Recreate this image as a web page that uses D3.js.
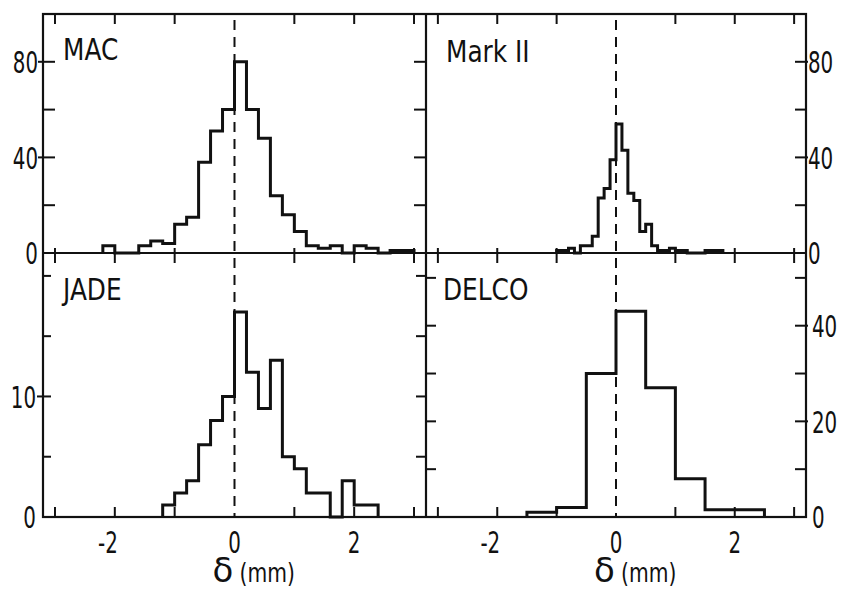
<!DOCTYPE html>
<html>
<head>
<meta charset="utf-8">
<title>Vertex residuals</title>
<script src="https://d3js.org/d3.v7.min.js"></script>
<style>
  body { margin: 0; background: #fff; }
  svg { display: block; }
  text { font-family: "DejaVu Sans", sans-serif; fill: #111; }
</style>
</head>
<body>
<svg width="843" height="591"></svg>
<script>
// bin edges (mm) and counts
const macEdges = [-2.2, -2.0, -1.8, -1.6, -1.4, -1.2, -1.0, -0.8, -0.6, -0.4, -0.2, 0, 0.2, 0.4, 0.6, 0.8, 1.0, 1.2, 1.4, 1.6, 1.8, 2.0, 2.2, 2.4, 2.6, 2.8, 3.0];
const macCounts = [3, 0, 0, 3, 5, 4, 12, 15, 38, 51, 60, 80, 60, 48, 24, 16, 9, 3, 2, 3, 0, 3, 2, 0, 1, 1];

const mark2Edges = [-1.0, -0.9, -0.8, -0.7, -0.6, -0.5, -0.4, -0.3, -0.2, -0.1, 0, 0.1, 0.2, 0.3, 0.4, 0.5, 0.6, 0.7, 0.8, 0.9, 1.0, 1.1, 1.2, 1.3, 1.4, 1.5, 1.6, 1.7, 1.8];
const mark2Counts = [1, 1, 2, 0, 3, 3, 7, 23, 27, 39, 54, 43, 25, 22, 9, 12, 3, 1, 1, 2, 1, 1, 0, 0, 0, 1, 1, 1];

const jadeEdges = [-1.2, -1.0, -0.8, -0.6, -0.4, -0.2, 0, 0.2, 0.4, 0.6, 0.8, 1.0, 1.2, 1.4, 1.6, 1.8, 2.0, 2.2, 2.4];
const jadeCounts = [1, 2, 3, 6, 8, 10, 17, 12, 9, 13, 5, 4, 2, 2, 0, 3, 1, 1];

const delcoEdges = [-1.5, -1.0, -0.5, 0, 0.5, 1.0, 1.5, 2.0, 2.5];
const delcoCounts = [1, 2, 30, 43, 27, 8, 1.5, 1.5];

const xTicks = [-3, -2, -1, 0, 1, 2, 3];
const xLabels = [-2, 0, 2];

const svg = d3.select("svg");
const ink = "#111";

const L = 43, M = 426, R = 806;
const T = 14, H = 253, B = 517;

const xLeft = d3.scaleLinear().domain([-3.2, 3.2]).range([L, M]);
const xRight = d3.scaleLinear().domain([-3.2, 3.2]).range([M, R]);
const yTop = d3.scaleLinear().domain([0, 100]).range([H, T]);
const yJade = d3.scaleLinear().domain([0, 21.9]).range([B, H]);
const yDelco = d3.scaleLinear().domain([0, 55.2]).range([B, H]);

// frame
const frame = svg.append("g").attr("stroke", ink).attr("stroke-width", 2.2).attr("fill", "none");
frame.append("rect").attr("x", L).attr("y", T).attr("width", R - L).attr("height", B - T);
frame.append("line").attr("x1", M).attr("x2", M).attr("y1", T).attr("y2", B);
frame.append("line").attr("x1", L).attr("x2", R).attr("y1", H).attr("y2", H);

function tick(g, x1, y1, x2, y2) {
  g.append("line").attr("x1", x1).attr("y1", y1).attr("x2", x2).attr("y2", y2);
}
const ticks = svg.append("g").attr("stroke", ink).attr("stroke-width", 2);

// x ticks on top, middle and bottom lines
[xLeft, xRight].forEach(x => {
  xTicks.forEach(v => {
    if (v === 0) return;
    tick(ticks, x(v), T, x(v), T + 10);
    tick(ticks, x(v), H - 5, x(v), H + 10);
    tick(ticks, x(v), B, x(v), B - 10);
  });
});

// y ticks, upper panels
[20, 40, 60, 80].forEach(v => {
  const big = v % 40 === 0;
  tick(ticks, big ? L - 5 : L, yTop(v), L + 12, yTop(v));
  tick(ticks, M - 12, yTop(v), M, yTop(v));
  tick(ticks, R - 11, yTop(v), big ? R + 2 : R, yTop(v));
});
// JADE
[5, 10, 15, 20].forEach(v => {
  tick(ticks, v === 10 ? L - 6 : L, yJade(v), L + 8, yJade(v));
  tick(ticks, M - 10, yJade(v), M, yJade(v));
});
// DELCO
[10, 20, 30, 40, 50].forEach(v => {
  tick(ticks, M, yDelco(v), M + 10, yDelco(v));
  tick(ticks, R - 11, yDelco(v), v % 20 === 0 ? R + 2 : R, yDelco(v));
});

// dashed zero lines
[xLeft, xRight].forEach(x => {
  svg.append("line")
    .attr("x1", x(0)).attr("x2", x(0)).attr("y1", T + 6).attr("y2", B)
    .attr("stroke", ink).attr("stroke-width", 2)
    .attr("stroke-dasharray", "10,7");
});

// histograms
function drawHist(edges, counts, x, y) {
  const pts = [[edges[0], 0]];
  counts.forEach((c, i) => pts.push([edges[i], c]));
  pts.push([edges[edges.length - 1], 0]);
  const line = d3.line().x(d => x(d[0])).y(d => y(d[1])).curve(d3.curveStepAfter);
  svg.append("path").datum(pts)
    .attr("d", line)
    .attr("fill", "none")
    .attr("stroke", ink)
    .attr("stroke-width", 3);
}
drawHist(macEdges, macCounts, xLeft, yTop);
drawHist(mark2Edges, mark2Counts, xRight, yTop);
drawHist(jadeEdges, jadeCounts, xLeft, yJade);
drawHist(delcoEdges, delcoCounts, xRight, yDelco);

// narrow lettering: squeeze DejaVu horizontally
function narrow(txt, x, y, anchor, size, sx, dy) {
  return svg.append("g").attr("transform", `translate(${x},${y}) scale(${sx},1)`)
    .append("text").attr("dy", dy || 0)
    .attr("text-anchor", anchor).attr("font-size", size).text(txt);
}

const fs = 31, sq = 0.64;
[0, 40, 80].forEach(v => {
  narrow(v, L - 5, yTop(v), "end", fs, sq, "0.36em");
  narrow(v, R + 2, yTop(v), "start", fs, sq, "0.36em");
});
[0, 10].forEach(v => narrow(v, L - 7, yJade(v), "end", fs, sq, "0.36em"));
[0, 20, 40].forEach(v => narrow(v, R + 6, yDelco(v), "start", fs, sq, "0.36em"));

[xLeft, xRight].forEach(x => {
  xLabels.forEach(v => {
    if (v < 0) narrow("-" + Math.abs(v), x(v) + 3, 553, "end", fs, sq);
    else narrow(v, x(v), 553, "middle", fs, sq);
  });
  svg.append("text").attr("x", x(0) - 22).attr("y", 582)
    .attr("font-size", 34).text("δ");
  narrow("(mm)", x(0) + 5, 582, "start", 26, 0.78);
});

// panel names
const names = [["MAC", L + 20, 60], ["Mark II", M + 20, 62], ["JADE", L + 20, 300], ["DELCO", M + 17, 300]];
names.forEach(n => narrow(n[0], n[1], n[2], "start", 31, 0.8));
</script>
</body>
</html>
